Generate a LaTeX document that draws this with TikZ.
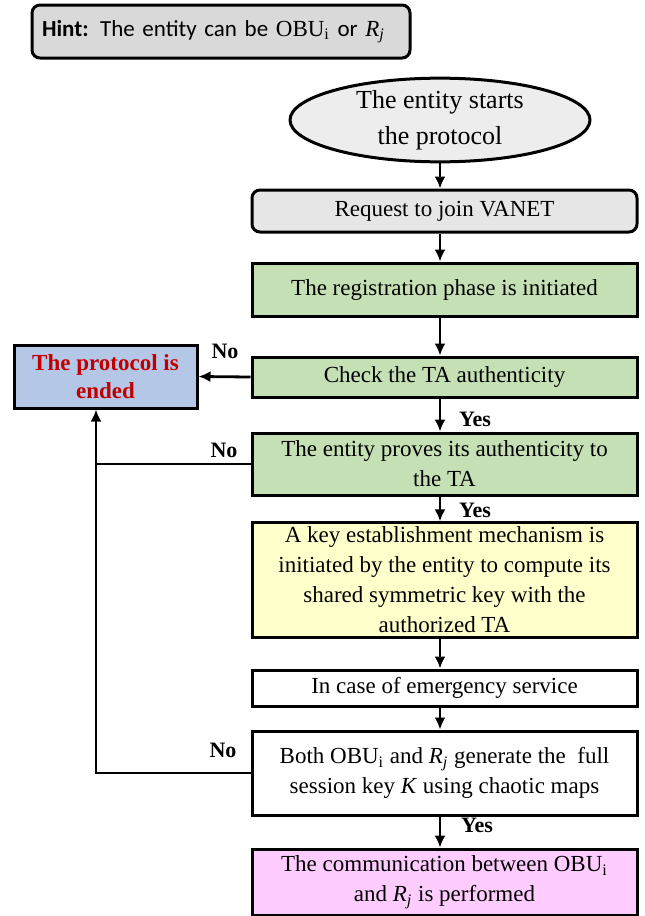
\documentclass[tikz,border=0pt]{standalone}
\usepackage{fontspec}
\setmainfont{Liberation Serif}
\newfontfamily\hintfont{Carlito}
\usetikzlibrary{shapes.geometric, arrows.meta}

\definecolor{hintgray}{HTML}{D9D9D9}
\definecolor{startgray}{HTML}{EDEDED}
\definecolor{reqgray}{HTML}{E7E6E6}
\definecolor{reggreen}{HTML}{C5E0B4}
\definecolor{keyyellow}{HTML}{FFFFCC}
\definecolor{commpink}{HTML}{FFCCFF}
\definecolor{endblue}{HTML}{B4C7E7}
\definecolor{endred}{HTML}{C00000}

\newcommand{\obu}{{\rmfamily OBU\textsubscript{i}}}
\newcommand{\rj}{{\rmfamily\textit{R}\textsubscript{\textit{j}}}}

\begin{document}
\begin{tikzpicture}[x=0.5pt, y=-0.5pt,
    box/.style={draw, line width=1.5pt, minimum width=192.5pt, align=center, inner sep=2pt, font=\fontsize{11.5}{15}\selectfont},
    line/.style={line width=1.4pt},
    arr/.style={line width=1.4pt, -{Latex[length=6pt,width=5.5pt]}},
    lbl/.style={font=\fontsize{11}{12}\selectfont\bfseries, inner sep=0pt}]

\useasboundingbox (0,0) rectangle (644,916);

\node[box, rounded corners=4pt, fill=hintgray, minimum width=189pt, minimum height=26.5pt, text width=179pt, inner sep=5pt, align=left, font=\hintfont\fontsize{11.5}{12}\selectfont] (hint) at (221,31.5) {\textbf{Hint:} The entity can be \obu{} or \rj};

\node[draw, ellipse, line width=1.5pt, fill=startgray, minimum width=150pt, minimum height=37pt, inner sep=0pt, align=center, font=\fontsize{13}{17.8}\selectfont] (start) at (440,120) {The entity starts\\the protocol};

\node[box, rounded corners=4pt, fill=reqgray, minimum height=21pt] (req) at (444.5,211) {Request to join VANET};
\node[box, fill=reggreen, minimum height=26.5pt] (reg) at (444.5,289.5) {The registration phase is initiated};
\node[box, fill=reggreen, minimum height=20pt] (check) at (444.5,377) {Check the TA authenticity};
\node[box, fill=reggreen, minimum height=31pt] (proves) at (444.5,464) {The entity proves its authenticity to\\the TA};
\node[box, fill=keyyellow, minimum height=57pt] (key) at (444.5,580) {A key establishment mechanism is\\initiated by the entity to compute its\\shared symmetric key with the\\authorized TA};
\node[box, minimum height=18pt] (emerg) at (444.5,688) {In case of emergency service};
\node[box, minimum height=42pt] (both) at (444.5,773) {Both \obu{} and \rj{} generate the\ \ full\\session key \textit{K} using chaotic maps};
\node[box, fill=commpink, minimum height=33pt] (comm) at (444.5,882) {The communication between \obu\\and \rj{} is performed};

\node[box, fill=endblue, minimum width=91.5pt, minimum height=31.5pt, text=endred, font=\fontsize{11.5}{14}\selectfont\bfseries] (ended) at (105.5,376.5) {The protocol is\\ended};

% main column
\foreach \a/\b in {start/req, req/reg, reg/check, check/proves, proves/key, key/emerg, emerg/both, both/comm}
    \draw[arr] (\a.south -| start.south) -- (\b.north -| start.south);

% back to the end box
\coordinate (lane) at (96,0);
\draw[arr] (check.west) -- (ended.east);
\draw[line] (proves.west) -- (proves.west -| lane);
\draw[arr] (both.west) -| (ended.south -| lane);

\node[lbl] (no1) at (225,351) {No};
\node[lbl] (no2) at (224,450) {No};
\node[lbl] (no3) at (223,750) {No};
\node[lbl] (yes1) at (475,419) {Yes};
\node[lbl] (yes2) at (475,510) {Yes};
\node[lbl] (yes3) at (477,825) {Yes};

\end{tikzpicture}
\end{document}
